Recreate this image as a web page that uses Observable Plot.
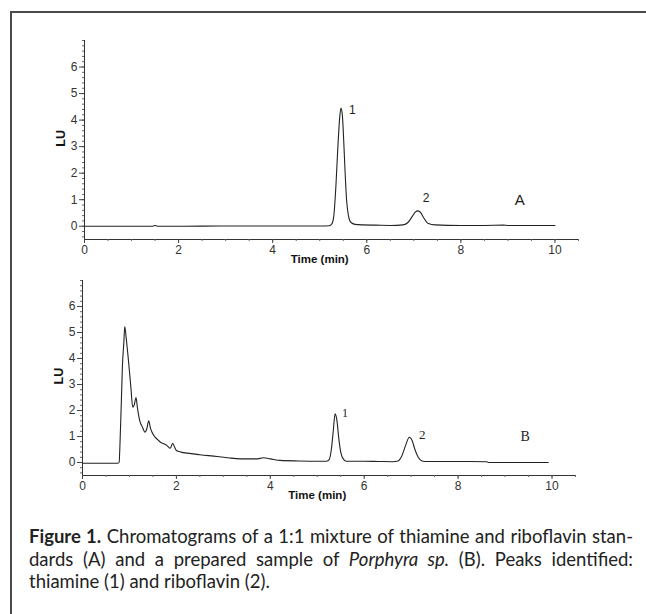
<!DOCTYPE html>
<html>
<head>
<meta charset="utf-8">
<script src="https://cdn.jsdelivr.net/npm/d3@7"></script>
<script src="https://cdn.jsdelivr.net/npm/@observablehq/plot@0.6"></script>
<style>
  html, body { margin: 0; padding: 0; background: #fff; }
  #page { position: relative; width: 646px; height: 614px; overflow: hidden; background: #fff; }
  #frame { position: absolute; left: 10px; top: 11px; width: 700px; height: 700px;
           border-left: 2px solid #4a4a4a; border-top: 2px solid #4a4a4a; }
  #panelA { position: absolute; left: 0; top: 0; }
  #panelB { position: absolute; left: 0; top: 272px; }
  #caption { position: absolute; left: 29px; top: 525px; width: 604px;
             font-family: Lato, "Noto Sans", sans-serif; font-size: 18.5px; line-height: 22.5px; color: #222; }
  #caption .j { text-align: justify; text-align-last: justify; white-space: nowrap; }
  #caption b { font-weight: bold; }
</style>
</head>
<body>
<div id="page">
  <div id="frame"></div>
  <div id="panelA"></div>
  <div id="panelB"></div>
  <div id="caption">
    <div class="j"><b>Figure 1.</b> Chromatograms of a 1:1 mixture of thiamine and riboflavin stan-</div>
    <div class="j">dards (A) and a prepared sample of <i>Porphyra sp.</i> (B). Peaks identified:</div>
    <div>thiamine (1) and riboflavin (2).</div>
  </div>
</div>
<script>
// ---- Data ----
const timesA  = [0, 1.45, 1.5, 1.55, 2.0, 3.0, 4.0, 5.0, 5.2, 5.26, 5.3, 5.34, 5.38, 5.42, 5.45, 5.48, 5.51, 5.54, 5.57, 5.61, 5.66, 5.75, 5.9, 6.2, 6.5, 6.77, 6.88, 6.97, 7.03, 7.09, 7.15, 7.21, 7.31, 7.45, 8.0, 8.5, 8.9, 9.0, 10.0];
const valuesA = [0, 0, 0.03, 0, 0, 0.01, 0.01, 0.01, 0.02, 0.1, 0.4, 1.4, 2.8, 4.0, 4.45, 4.2, 3.2, 2.0, 1.0, 0.4, 0.15, 0.07, 0.05, 0.04, 0.03, 0.05, 0.15, 0.38, 0.53, 0.58, 0.5, 0.32, 0.1, 0.05, 0.03, 0.03, 0.04, 0.03, 0.03];

const timesB  = [0, 0.75, 0.78, 0.8, 0.83, 0.85, 0.88, 0.9, 0.93, 0.98, 1.03, 1.07, 1.1, 1.14, 1.17, 1.22, 1.28, 1.33, 1.37, 1.41, 1.45, 1.52, 1.6, 1.66, 1.73, 1.8, 1.87, 1.92, 1.96, 2.0, 2.1, 2.23, 2.5, 2.87, 3.1, 3.36, 3.7, 3.86, 4.0, 4.21, 4.6, 5.06, 5.2, 5.25, 5.3, 5.34, 5.38, 5.42, 5.46, 5.5, 5.56, 5.62, 6.0, 6.3, 6.6, 6.72, 6.8, 6.88, 6.96, 7.02, 7.08, 7.15, 7.23, 7.35, 8.0, 8.6, 8.65, 9.92];
const valuesB = [-0.03, -0.03, 0.0, 0.8, 2.5, 3.7, 4.6, 5.23, 4.8, 3.9, 2.9, 2.13, 2.2, 2.5, 2.1, 1.6, 1.35, 1.17, 1.3, 1.6, 1.3, 1.04, 0.88, 0.78, 0.72, 0.65, 0.55, 0.74, 0.6, 0.46, 0.4, 0.36, 0.3, 0.23, 0.18, 0.14, 0.14, 0.18, 0.14, 0.08, 0.06, 0.05, 0.05, 0.1, 0.5, 1.2, 1.87, 1.6, 0.9, 0.4, 0.12, 0.05, 0.05, 0.04, 0.03, 0.06, 0.25, 0.65, 0.97, 0.85, 0.5, 0.2, 0.06, 0.04, 0.04, 0.03, 0.0, 0.0];

const labelTextA = ["1", "2", "A"];
const labelTimeA = [5.46, 7.09, 9.25];
const labelValueA = [4.45, 0.58, 1.0];

const labelTextB = ["1", "2", "B"];
const labelTimeB = [5.38, 6.96, 9.43];
const labelValueB = [1.87, 0.97, 1.0];

const xMajorTicks = [0, 2, 4, 6, 8, 10];
const xMinorTicks = d3.range(0, 10.51, 0.5);
const yMajorTicks = [0, 1, 2, 3, 4, 5, 6];
const yMinorTicks = d3.range(-0.4, 7.01, 0.2);
const xLabel = "Time (min)";
const yLabel = "LU";

function panel({times, values, lt, lv, ltxt, ml, mr, mt, mb, h, labelFont, labelSizes, offsets}) {
  const pts = times.map((t, i) => ({t, v: values[i]}));
  const labels = ltxt.map((s, i) => ({s, t: lt[i], v: lv[i], i}));
  return Plot.plot({
    width: 646, height: h,
    marginLeft: ml, marginRight: mr, marginTop: mt, marginBottom: mb,
    x: {domain: [0, 10.5], axis: null},
    y: {domain: [-0.5, 7], axis: null},
    style: {fontFamily: "'Liberation Sans', Arial, sans-serif", fontSize: "12px", color: "#333", background: "transparent"},
    marks: [
      Plot.ruleX([0], {y1: -0.5, y2: 7, stroke: "#333", strokeWidth: 1}),
      Plot.ruleY([-0.5], {x1: 0, x2: 10.5, stroke: "#333", strokeWidth: 1.2}),
      Plot.axisY(yMinorTicks, {anchor: "left", tickSize: 2, tickFormat: () => "", stroke: "#666", label: null}),
      Plot.axisY(yMajorTicks, {anchor: "left", tickSize: 5, tickPadding: 2, stroke: "#444", fill: "#333", fontSize: 12, label: null}),
      Plot.axisX(xMinorTicks, {anchor: "bottom", tickSize: 2, tickFormat: () => "", stroke: "#666", label: null}),
      Plot.axisX(xMajorTicks, {anchor: "bottom", tickSize: 4, tickPadding: 2, stroke: "#444", fill: "#333", fontSize: 12, label: null}),
      Plot.text([xLabel], {x: 5.0, frameAnchor: "bottom", dy: 23, fontWeight: "bold", fontSize: 11.5, fill: "#111"}),
      Plot.text([yLabel], {y: 3, frameAnchor: "left", dx: -24, rotate: -90, fontWeight: "bold", fontSize: 12.5, fill: "#111"}),
      Plot.line(pts, {x: "t", y: "v", stroke: "#222", strokeWidth: 1.1, curve: "monotone-x"}),
      ...labels.map(d => Plot.text([d], {x: "t", y: "v", text: "s", dx: offsets[d.i][0], dy: offsets[d.i][1],
        fontFamily: labelFont, fontSize: labelSizes[d.i], fill: "#222"}))
    ]
  });
}

document.getElementById("panelA").append(panel({
  times: timesA, values: valuesA, lt: labelTimeA, lv: labelValueA, ltxt: labelTextA,
  ml: 84, mr: 68, mt: 40, mb: 33, h: 272,
  labelFont: "'Liberation Sans', Arial, sans-serif", labelSizes: [12, 12, 15],
  offsets: [[11, 2], [8, -13], [0, 0]]
}));

document.getElementById("panelB").append(panel({
  times: timesB, values: valuesB, lt: labelTimeB, lv: labelValueB, ltxt: labelTextB,
  ml: 82, mr: 71, mt: 8, mb: 35, h: 238,
  labelFont: "'Liberation Serif', 'Times New Roman', serif", labelSizes: [12, 13, 14],
  offsets: [[10, -1], [13, -2], [0, 0]]
}));
</script>
</body>
</html>
